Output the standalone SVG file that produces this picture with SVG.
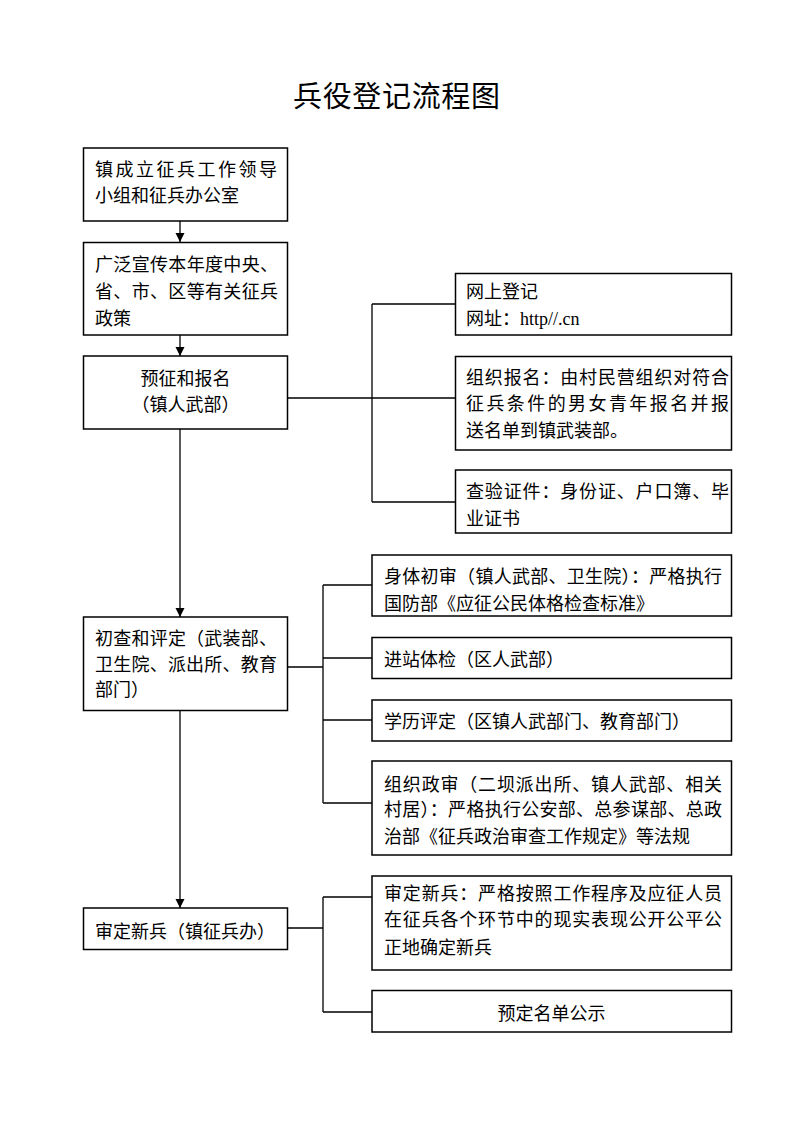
<svg xmlns="http://www.w3.org/2000/svg" width="793" height="1122" viewBox="0 0 793 1122">
<style>
.box{fill:#fff;stroke:#000;stroke-width:1.5}
.t{font-family:"Liberation Serif","Noto Sans CJK SC",serif;font-size:18px;fill:#000}
.c{text-anchor:middle}
.ln{fill:none;stroke:#000;stroke-width:1.3}
</style>
<defs>
<marker id="ah" markerWidth="10" markerHeight="10" refX="9" refY="4.5" orient="auto" markerUnits="userSpaceOnUse"><path d="M0,0 L9,4.5 L0,9 Z" fill="#000"/></marker>
</defs>
<rect width="793" height="1122" fill="#fff"/>
<text x="396.5" y="107" class="t c" style="font-size:29px" textLength="207" lengthAdjust="spacing">兵役登记流程图</text>

<g id="connectors">
<line class="ln" x1="180" y1="221" x2="180" y2="242" marker-end="url(#ah)"/>
<line class="ln" x1="180" y1="335" x2="180" y2="356" marker-end="url(#ah)"/>
<line class="ln" x1="180" y1="429" x2="180" y2="617" marker-end="url(#ah)"/>
<line class="ln" x1="180" y1="710" x2="180" y2="908" marker-end="url(#ah)"/>
<path class="ln" d="M288,398 H456 M372,304 V502 M372,304 H456 M372,502 H456"/>
<path class="ln" d="M288,667 H323 M323,585 V803 M323,585 H372 M323,658 H372 M323,720 H372 M323,803 H372"/>
<path class="ln" d="M288,928 H323 M323,897 V1012 M323,897 H372 M323,1012 H372"/>
</g>

<g id="n1"><rect class="box" x="83.5" y="148" width="204" height="73"/>
<text class="t" x="95" y="175.5" textLength="182" lengthAdjust="spacing">镇成立征兵工作领导</text>
<text class="t" x="95" y="202">小组和征兵办公室</text></g>

<g id="n2"><rect class="box" x="83.5" y="242.5" width="204" height="92.5"/>
<text class="t" x="95" y="271" textLength="183" lengthAdjust="spacing">广泛宣传本年度中央、</text>
<text class="t" x="95" y="297.5" textLength="183" lengthAdjust="spacing">省、市、区等有关征兵</text>
<text class="t" x="95" y="324.5">政策</text></g>

<g id="n3"><rect class="box" x="83.5" y="356" width="204" height="73"/>
<text class="t c" x="185.5" y="384.5">预征和报名</text>
<text class="t c" x="185.5" y="411">（镇人武部）</text></g>

<g id="n4"><rect class="box" x="455.5" y="273.5" width="276" height="61.5"/>
<text class="t" x="466" y="297.5">网上登记</text>
<text class="t" x="466" y="324.5">网址：http//.cn</text></g>

<g id="n5"><rect class="box" x="455.5" y="356.5" width="276" height="93.5"/>
<text class="t" x="466" y="383.5" textLength="263" lengthAdjust="spacing">组织报名：由村民营组织对符合</text>
<text class="t" x="466" y="410" textLength="263" lengthAdjust="spacing">征兵条件的男女青年报名并报</text>
<text class="t" x="466" y="437">送名单到镇武装部。</text></g>

<g id="n6"><rect class="box" x="455.5" y="470" width="276" height="63"/>
<text class="t" x="466" y="498" textLength="263" lengthAdjust="spacing">查验证件：身份证、户口簿、毕</text>
<text class="t" x="466" y="525">业证书</text></g>

<g id="n7"><rect class="box" x="83.5" y="617" width="204" height="93.5"/>
<text class="t" x="95" y="644.5" textLength="182" lengthAdjust="spacing">初查和评定（武装部、</text>
<text class="t" x="95" y="671" textLength="182" lengthAdjust="spacing">卫生院、派出所、教育</text>
<text class="t" x="95" y="696">部门）</text></g>

<g id="n8"><rect class="box" x="372" y="555" width="359.5" height="61"/>
<text class="t" x="384" y="583" textLength="338" lengthAdjust="spacing">身体初审（镇人武部、卫生院）：严格执行</text>
<text class="t" x="384" y="609.5">国防部《应征公民体格检查标准》</text></g>

<g id="n9"><rect class="box" x="372" y="637.5" width="359.5" height="41"/>
<text class="t" x="384" y="666">进站体检（区人武部）</text></g>

<g id="n10"><rect class="box" x="372" y="700" width="359.5" height="41"/>
<text class="t" x="384" y="727.5">学历评定（区镇人武部门、教育部门）</text></g>

<g id="n11"><rect class="box" x="372" y="761" width="359.5" height="94"/>
<text class="t" x="384" y="790.5" textLength="338" lengthAdjust="spacing">组织政审（二坝派出所、镇人武部、相关</text>
<text class="t" x="384" y="816" textLength="338" lengthAdjust="spacing">村居）：严格执行公安部、总参谋部、总政</text>
<text class="t" x="384" y="843">治部《征兵政治审查工作规定》等法规</text></g>

<g id="n12"><rect class="box" x="83.5" y="908" width="204" height="41.5"/>
<text class="t" x="95" y="937.5">审定新兵（镇征兵办）</text></g>

<g id="n13"><rect class="box" x="372" y="876" width="359.5" height="94"/>
<text class="t" x="384" y="899.5" textLength="338" lengthAdjust="spacing">审定新兵：严格按照工作程序及应征人员</text>
<text class="t" x="384" y="926" textLength="338" lengthAdjust="spacing">在征兵各个环节中的现实表现公开公平公</text>
<text class="t" x="384" y="954">正地确定新兵</text></g>

<g id="n14"><rect class="box" x="372" y="990.5" width="359.5" height="41.5"/>
<text class="t c" x="551.5" y="1019.5">预定名单公示</text></g>
</svg>
